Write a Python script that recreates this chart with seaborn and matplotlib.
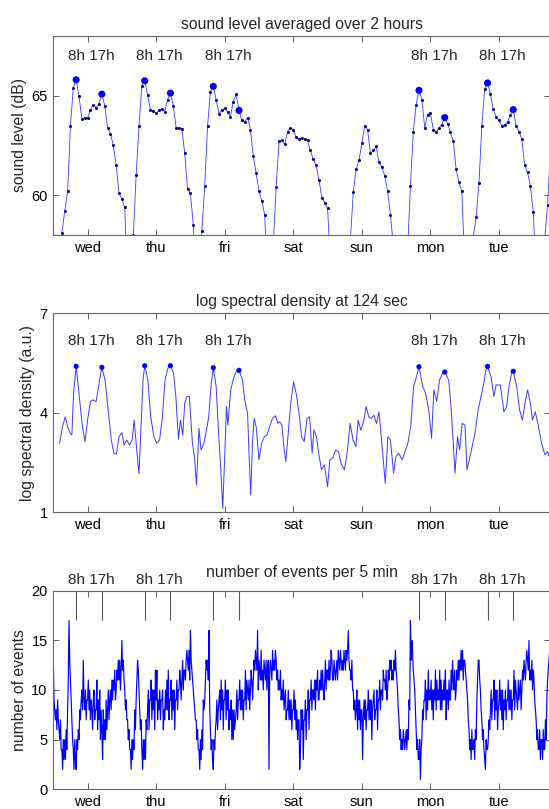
import numpy as np
import pandas as pd
import matplotlib
matplotlib.use("Agg")
import matplotlib.pyplot as plt
import seaborn as sns

# ---------------- data ----------------
day_labels = ["wed", "thu", "fri", "sat", "sun", "mon", "tue"]
workdays = ["wed", "thu", "fri", "mon", "tue"]
bottom_label_days = ["wed", "thu", "mon", "tue"]   # fri label hidden by title in the bottom panel
peak_hours = [8, 17]

# sound level, 2-hour average sampled hourly (dB), hours 0..23 of each day from Wed 00:00
sound_wed = [56.0, 55.8, 56.2, 58.1, 59.2, 60.2, 63.5, 65.4, 65.8, 64.97, 63.85, 63.9,
             63.88, 64.3, 64.55, 64.4, 64.6, 65.08, 64.5, 63.4, 63.1, 62.5, 61.5, 60.1]
sound_thu = [59.8, 59.4, 55.5, 55.8, 58.0, 61.0, 63.5, 65.5, 65.75, 65.05, 64.3, 64.24,
             64.12, 64.28, 64.34, 64.2, 64.8, 65.13, 64.5, 63.4, 63.38, 63.35, 62.1, 60.3]
sound_fri = [60.1, 58.5, 55.5, 55.5, 58.2, 60.45, 63.5, 65.2, 65.47, 64.8, 64.1, 64.3,
             64.36, 64.2, 63.95, 64.7, 65.08, 64.26, 63.76, 63.7, 63.9, 63.3, 61.96, 61.1]
sound_sat = [60.2, 59.7, 59.0, 55.5, 55.0, 57.5, 60.4, 62.7, 62.75, 62.55, 63.2, 63.4,
             63.3, 62.9, 62.83, 62.86, 62.83, 62.75, 62.25, 61.8, 61.5, 60.75, 59.87, 59.63]
sound_sun = [59.35, 56.5, 55.0, 55.0, 55.0, 55.0, 55.5, 56.5, 57.8, 60.15, 61.3, 61.75,
             62.6, 63.5, 63.3, 62.1, 62.25, 62.45, 61.65, 61.4, 60.98, 60.23, 59.03, 57.5]
sound_mon = [55.5, 55.0, 55.0, 55.0, 57.2, 60.45, 63.2, 64.55, 65.27, 64.8, 63.4, 64.05,
             64.13, 63.3, 63.16, 63.38, 63.55, 63.9, 63.6, 63.16, 62.7, 61.3, 60.65, 60.2]
sound_tue = [56.5, 55.0, 55.0, 57.9, 58.9, 60.6, 63.5, 65.33, 65.64, 65.08, 64.33, 63.93,
             63.76, 63.5, 63.55, 63.66, 64.05, 64.3, 63.46, 63.2, 62.8, 61.5, 61.15, 60.45]
sound_wed2 = [59.16, 56.0, 55.0, 55.5, 57.8, 59.5, 62.3]

# log spectral density at 124 s: (hour since Wed 00:00, value)
lsd_hour = [2.2, 3.2, 4.2, 5.0, 5.9, 6.5, 7.1, 8, 9.1, 10.2, 11.1, 12, 13, 13.8, 15, 16.2, 17,
            18.1, 19.3, 20.3, 21.2, 22.1, 23, 24, 24.8, 25.7, 26.7, 27.6, 28.3, 29.1, 30, 30.7,
            31.4, 32, 33.1, 34.1, 35.2, 36.2, 37.2, 38.2, 39.1, 40.1, 41, 42.1, 42.9, 43.8, 44.5,
            45.3, 46, 46.8, 47.6, 48.7, 49.4, 50.1, 51, 51.7, 52.7, 53.6, 54.4, 55.3, 56, 57,
            57.8, 58.7, 59.3, 60, 60.6, 61.1, 62.1, 63.1, 64.2, 65, 66.2, 67, 68, 68.5, 69.1,
            69.7, 70.3, 71, 72, 72.9, 73.9, 74.8, 75.7, 76.7, 77.8, 78.6, 79.2, 80, 80.7, 81.4,
            82.3, 83.1, 84.1, 85.1, 86.1, 86.9, 87.8, 88.8, 89.7, 90.6, 91.2, 92.1, 92.9, 93.9,
            94.9, 96, 96.8, 97.8, 98.8, 99.8, 100.7, 101.9, 102.9, 103.9, 104.9, 105.9, 106.7,
            107.6, 108.6, 109.5, 110.4, 111.3, 112.2, 113.1, 114, 115, 116.2, 117.1, 118, 119.1,
            119.9, 120.9, 122.1, 123.1, 124.1, 125.1, 126.1, 127.1, 128, 129.3, 130.3, 131.4,
            132.4, 133.2, 134.2, 135.2, 136.3, 137, 138.4, 139.3, 140.2, 140.6, 141.5, 142.2,
            143.1, 144.1, 144.8, 145.6, 146.6, 147.6, 148.7, 149.7, 150.7, 151.4, 152, 153.2,
            154.2, 155, 156.5, 157.7, 158.7, 159.5, 160.4, 161, 162.2, 163.2, 164.2, 165.1, 166,
            167, 167.7, 168.7, 169.6, 170.9, 172.1, 173, 174]
lsd_val = [3.08, 3.58, 3.88, 3.58, 3.38, 3.33, 4.6, 5.40, 4.5, 3.58, 3.13, 3.78, 4.34, 4.39, 4.34,
           4.99, 5.37, 4.99, 4.0, 3.18, 2.78, 2.75, 3.28, 3.4, 3.03, 3.18, 3.03, 3.18, 3.78, 2.98,
           2.16, 3.58, 4.99, 5.42, 4.99, 3.88, 3.28, 3.08, 3.18, 3.88, 4.99, 5.34, 5.42, 5.19,
           4.49, 3.2, 3.78, 3.33, 4.29, 4.49, 4.5, 3.08, 2.68, 1.82, 3.53, 2.88, 3.08, 3.48, 3.88,
           4.89, 5.36, 4.79, 3.48, 2.18, 1.12, 2.68, 4.19, 3.63, 4.69, 5.04, 5.29, 5.28, 4.99,
           4.39, 3.98, 2.78, 1.52, 3.08, 3.83, 3.58, 2.58, 3.08, 3.28, 3.33, 3.58, 3.83, 3.91,
           3.68, 3.73, 3.63, 2.98, 2.53, 3.48, 4.29, 4.94, 4.54, 3.93, 3.28, 3.13, 3.83, 3.88,
           2.78, 3.48, 3.28, 2.78, 2.28, 2.43, 1.77, 2.58, 2.63, 2.88, 2.83, 2.48, 2.28, 2.83,
           3.68, 3.18, 2.98, 3.78, 3.48, 3.73, 4.19, 3.88, 3.83, 3.93, 3.68, 4.03, 3.08, 1.87,
           3.28, 3.18, 2.18, 2.68, 2.78, 2.58, 2.83, 3.08, 3.58, 4.79, 5.09, 5.39, 4.79, 4.59,
           4.09, 3.23, 4.69, 4.34, 4.99, 5.19, 5.23, 4.99, 4.09, 2.78, 2.18, 3.28, 2.88, 3.68,
           3.63, 2.28, 2.58, 2.98, 3.38, 4.09, 4.49, 4.89, 5.29, 5.40, 5.09, 4.49, 4.84, 4.84,
           4.03, 4.19, 4.79, 5.19, 5.25, 4.79, 4.09, 3.78, 4.29, 4.69, 4.29, 3.78, 4.03, 3.68,
           3.08, 2.73, 2.83, 2.6]

# number of events, 15-minute samples (base-36 digits: a=10 ... h=17), one string per day
events_wed = ("d987" "8697" "6574" "4253" "5364" "8bhd" "b975" "4253" "2546" "5879" "a8d9" "8a79"
              "9b8a" "7986" "9a78" "8b69" "7a58" "6385" "7596" "8a79" "a8b9" "bac9" "acbd" "bdac")
events_thu = ("fcdb" "a897" "7564" "4253" "5486" "9bdc" "a867" "4253" "5376" "8a69" "9b7a" "8a6c"
              "9c79" "8a79" "9a68" "7a8b" "8c79" "9b7a" "8a69" "9b8a" "acb9" "bdac" "cbde" "dceb")
events_fri = ("gdcb" "a987" "7564" "4253" "6498" "9bdc" "dbg8" "6453" "2546" "7968" "9a7b" "8a69"
              "9b7a" "8a68" "7958" "5867" "8a79" "9b8a" "8a79" "9c8b" "a9b8" "acb9" "bdce" "dcga")
events_sat = ("dcbe" "bcad" "cbda" "cd2c" "dcbe" "cdce" "dbca" "bac9" "a9b8" "9a78" "8a79" "7968"
              "8a79" "6857" "7248" "6837" "7958" "8a69" "9b8a" "a9b8" "bac9" "9bac" "aca9" "bdac")
events_sun = ("cbdb" "cedb" "bdcb" "cdbe" "dced" "cdce" "dced" "egdc" "cbda" "a897" "8a69" "7968"
              "8379" "7968" "8a79" "7958" "9a78" "8a69" "9b8a" "a9cb" "bac9" "acbd" "cdbc" "bdce")
events_mon = ("cba8" "7564" "5465" "4564" "6598" "hdfe" "cba8" "6453" "3514" "5879" "9b7a" "8c9a"
              "9b8a" "7a9c" "8b9a" "9c8b" "8a9b" "9c7a" "a8b9" "9cad" "bac9" "acbd" "bdce" "cebd")
events_tue = ("dcba" "9764" "5364" "4536" "59bd" "dba8" "7564" "3254" "4576" "8a79" "9b7a" "8a68"
              "9b8a" "7a69" "8a79" "9b8a" "8a79" "9c8b" "a98b" "9ab8" "acbd" "cbde" "dcfb" "cbda")
events_wed2 = ("cb98" "7564" "4635" "5364" "4759" "bcde")

titles = ["sound level averaged over 2 hours", "log spectral density at 124 sec",
          "number of events per 5 min"]
ylabels = ["sound level (dB)", "log spectral density (a.u.)", "number of events"]

# ---------------- tables ----------------
sound = sound_wed + sound_thu + sound_fri + sound_sat + sound_sun + sound_mon + sound_tue + sound_wed2
df_sound = pd.DataFrame({"hour": np.arange(len(sound)), "value": sound})
df_lsd = pd.DataFrame({"hour": lsd_hour, "value": lsd_val})
ev_str = events_wed + events_thu + events_fri + events_sat + events_sun + events_mon + events_tue + events_wed2
df_ev = pd.DataFrame({"hour": np.arange(len(ev_str)) * 0.25,
                      "value": [int(c, 36) for c in ev_str]})
for df in (df_sound, df_lsd, df_ev):
    df["day"] = df["hour"] / 24.0
    df["dayname"] = [day_labels[int(h // 24) % 7] for h in df["hour"]]


def peaks(df):
    hod = df["hour"] % 24
    return df[hod.isin(peak_hours) & df["dayname"].isin(workdays)]


# ---------------- figure ----------------
sns.set_theme(style="white")
plt.rcParams["font.family"] = ["Liberation Sans", "DejaVu Sans"]

W, H = 549, 809
fig = plt.figure(figsize=(W / 100, H / 100), dpi=100)


def add_ax(top_px, bottom_px):
    return fig.add_axes([53.3 / W, 1 - bottom_px / H, (550 - 53.3) / W, (bottom_px - top_px) / H])


ax1 = add_ax(36, 235)
ax2 = add_ax(313.3, 512.3)
ax3 = add_ax(590.7, 789.3)
axes = [ax1, ax2, ax3]

blue = "#0000ff"
line_blue = "#3a3aff"
# top panel
sns.lineplot(data=df_sound, x="day", y="value", ax=ax1, estimator=None, color=line_blue, lw=0.6,
             marker="o", markersize=2.2, markeredgewidth=0, markerfacecolor="#00008b")
pk = peaks(df_sound)
sns.scatterplot(data=pk, x="day", y="value", ax=ax1, color=blue, s=26, edgecolor="none", zorder=5)

# middle panel
sns.lineplot(data=df_lsd, x="day", y="value", ax=ax2, estimator=None, color=line_blue, lw=0.7)
pk2 = peaks(df_lsd)
sns.scatterplot(data=pk2, x="day", y="value", ax=ax2, color=blue, s=14, edgecolor="none", zorder=5)

# bottom panel
sns.lineplot(data=df_ev, x="day", y="value", ax=ax3, estimator=None, color=blue, lw=0.85)

ylims = [(58, 68), (1, 7), (0, 20)]
yticks = [[60, 65], [1, 4, 7], [0, 5, 10, 15, 20]]
text_y = [67.0, 6.16, 21.08]
text_days = [workdays, workdays, bottom_label_days]
title_pad = [5, 5, 10]

for i, ax in enumerate(axes):
    ax.set_xlim(0, 7.244)
    ax.set_ylim(*ylims[i])
    ax.set_xticks(np.arange(len(day_labels)) + 0.5)
    ax.set_xticklabels(day_labels)
    ax.set_yticks(yticks[i])
    ax.tick_params(direction="in", length=4, width=0.6, colors="#444", labelcolor="black",
                   labelsize=10.5, pad=4, bottom=True, left=True, top=True, right=True)
    for s in ax.spines.values():
        s.set_visible(True)
        s.set_color("#666")
        s.set_linewidth(0.8)
    ax.set_xlabel("")
    ax.set_ylabel(ylabels[i], fontsize=11.3, labelpad=3)
    ax.set_title(titles[i], fontsize=11.3, pad=title_pad[i])
    ax.grid(False)
    for d, name in enumerate(day_labels):
        if name in text_days[i]:
            xc = (d * 24 + np.mean(peak_hours) + 0.7) / 24
            ax.text(xc, text_y[i], f"{peak_hours[0]}h {peak_hours[1]}h", ha="center",
                    va="center", fontsize=11, clip_on=False)

# marker lines in bottom panel
lines_x = [(d * 24 + h) / 24 for d, name in enumerate(day_labels) if name in workdays for h in peak_hours]
ax3.vlines(lines_x, 17.05, 20, color="#555", lw=0.8)

fig.savefig("out.png", dpi=100)
